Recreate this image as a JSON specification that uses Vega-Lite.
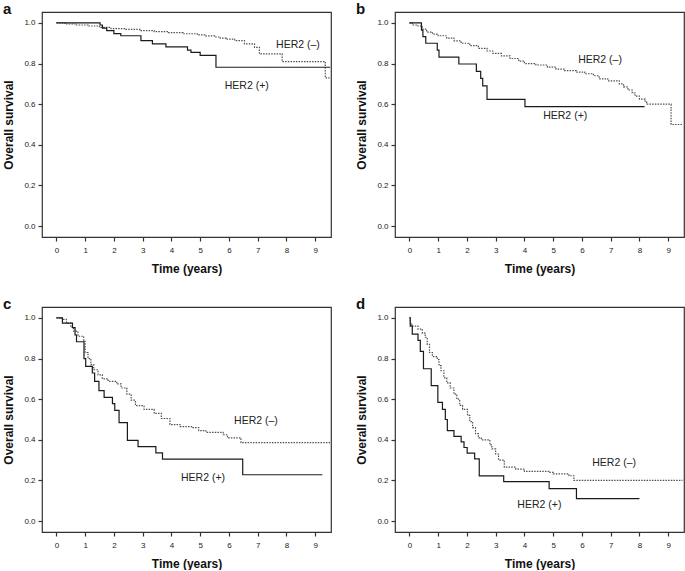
{
  "$schema": "https://vega.github.io/schema/vega-lite/v6.json",
  "padding": {"left": 2, "top": 1, "right": 2, "bottom": 0},
  "background": "white",
  "datasets": {
    "km": [
      {"p":"a","g":"HER2 (–)","t":0,"s":1.0},{"p":"a","g":"HER2 (–)","t":0.3,"s":0.995},{"p":"a","g":"HER2 (–)","t":0.7,"s":0.99},{"p":"a","g":"HER2 (–)","t":1.1,"s":0.985},{"p":"a","g":"HER2 (–)","t":1.5,"s":0.978},{"p":"a","g":"HER2 (–)","t":1.9,"s":0.972},{"p":"a","g":"HER2 (–)","t":2.4,"s":0.968},{"p":"a","g":"HER2 (–)","t":2.9,"s":0.962},{"p":"a","g":"HER2 (–)","t":3.4,"s":0.957},{"p":"a","g":"HER2 (–)","t":3.9,"s":0.952},{"p":"a","g":"HER2 (–)","t":4.4,"s":0.947},{"p":"a","g":"HER2 (–)","t":4.9,"s":0.941},{"p":"a","g":"HER2 (–)","t":5.2,"s":0.936},{"p":"a","g":"HER2 (–)","t":5.5,"s":0.931},{"p":"a","g":"HER2 (–)","t":5.7,"s":0.925},{"p":"a","g":"HER2 (–)","t":5.9,"s":0.92},{"p":"a","g":"HER2 (–)","t":6.2,"s":0.913},{"p":"a","g":"HER2 (–)","t":6.54,"s":0.897},{"p":"a","g":"HER2 (–)","t":6.89,"s":0.88},{"p":"a","g":"HER2 (–)","t":7.06,"s":0.848},{"p":"a","g":"HER2 (–)","t":7.85,"s":0.81},{"p":"a","g":"HER2 (–)","t":9.35,"s":0.73},{"p":"a","g":"HER2 (–)","t":9.5,"s":0.73},
      {"p":"a","g":"HER2 (+)","t":0,"s":1.0},{"p":"a","g":"HER2 (+)","t":1.52,"s":0.99},{"p":"a","g":"HER2 (+)","t":1.6,"s":0.975},{"p":"a","g":"HER2 (+)","t":1.75,"s":0.962},{"p":"a","g":"HER2 (+)","t":2.0,"s":0.948},{"p":"a","g":"HER2 (+)","t":2.24,"s":0.937},{"p":"a","g":"HER2 (+)","t":2.94,"s":0.913},{"p":"a","g":"HER2 (+)","t":3.34,"s":0.897},{"p":"a","g":"HER2 (+)","t":3.81,"s":0.882},{"p":"a","g":"HER2 (+)","t":4.56,"s":0.866},{"p":"a","g":"HER2 (+)","t":4.68,"s":0.855},{"p":"a","g":"HER2 (+)","t":5.0,"s":0.84},{"p":"a","g":"HER2 (+)","t":5.55,"s":0.782},{"p":"a","g":"HER2 (+)","t":9.52,"s":0.782},

      {"p":"b","g":"HER2 (–)","t":0,"s":1.0},{"p":"b","g":"HER2 (–)","t":0.1,"s":0.99},{"p":"b","g":"HER2 (–)","t":0.3,"s":0.985},{"p":"b","g":"HER2 (–)","t":0.45,"s":0.97},{"p":"b","g":"HER2 (–)","t":0.6,"s":0.955},{"p":"b","g":"HER2 (–)","t":0.8,"s":0.945},{"p":"b","g":"HER2 (–)","t":1.0,"s":0.937},{"p":"b","g":"HER2 (–)","t":1.3,"s":0.925},{"p":"b","g":"HER2 (–)","t":1.55,"s":0.912},{"p":"b","g":"HER2 (–)","t":1.8,"s":0.9},{"p":"b","g":"HER2 (–)","t":2.1,"s":0.888},{"p":"b","g":"HER2 (–)","t":2.4,"s":0.875},{"p":"b","g":"HER2 (–)","t":2.7,"s":0.862},{"p":"b","g":"HER2 (–)","t":2.9,"s":0.85},{"p":"b","g":"HER2 (–)","t":3.2,"s":0.838},{"p":"b","g":"HER2 (–)","t":3.5,"s":0.825},{"p":"b","g":"HER2 (–)","t":3.8,"s":0.812},{"p":"b","g":"HER2 (–)","t":4.0,"s":0.8},{"p":"b","g":"HER2 (–)","t":4.4,"s":0.793},{"p":"b","g":"HER2 (–)","t":4.8,"s":0.783},{"p":"b","g":"HER2 (–)","t":5.1,"s":0.773},{"p":"b","g":"HER2 (–)","t":5.4,"s":0.765},{"p":"b","g":"HER2 (–)","t":5.8,"s":0.758},{"p":"b","g":"HER2 (–)","t":6.1,"s":0.75},{"p":"b","g":"HER2 (–)","t":6.4,"s":0.74},{"p":"b","g":"HER2 (–)","t":6.6,"s":0.725},{"p":"b","g":"HER2 (–)","t":6.9,"s":0.715},{"p":"b","g":"HER2 (–)","t":7.3,"s":0.7},{"p":"b","g":"HER2 (–)","t":7.45,"s":0.685},{"p":"b","g":"HER2 (–)","t":7.6,"s":0.67},{"p":"b","g":"HER2 (–)","t":7.75,"s":0.655},{"p":"b","g":"HER2 (–)","t":7.85,"s":0.64},{"p":"b","g":"HER2 (–)","t":8.0,"s":0.625},{"p":"b","g":"HER2 (–)","t":8.2,"s":0.61},{"p":"b","g":"HER2 (–)","t":8.25,"s":0.6},{"p":"b","g":"HER2 (–)","t":9.1,"s":0.5},{"p":"b","g":"HER2 (–)","t":9.5,"s":0.5},
      {"p":"b","g":"HER2 (+)","t":0,"s":1.0},{"p":"b","g":"HER2 (+)","t":0.42,"s":0.965},{"p":"b","g":"HER2 (+)","t":0.47,"s":0.933},{"p":"b","g":"HER2 (+)","t":0.57,"s":0.9},{"p":"b","g":"HER2 (+)","t":0.97,"s":0.866},{"p":"b","g":"HER2 (+)","t":1.03,"s":0.832},{"p":"b","g":"HER2 (+)","t":1.72,"s":0.798},{"p":"b","g":"HER2 (+)","t":2.33,"s":0.762},{"p":"b","g":"HER2 (+)","t":2.48,"s":0.727},{"p":"b","g":"HER2 (+)","t":2.55,"s":0.69},{"p":"b","g":"HER2 (+)","t":2.7,"s":0.624},{"p":"b","g":"HER2 (+)","t":4.02,"s":0.588},{"p":"b","g":"HER2 (+)","t":8.18,"s":0.588},

      {"p":"c","g":"HER2 (–)","t":0,"s":1.0},{"p":"c","g":"HER2 (–)","t":0.2,"s":0.993},{"p":"c","g":"HER2 (–)","t":0.35,"s":0.975},{"p":"c","g":"HER2 (–)","t":0.5,"s":0.955},{"p":"c","g":"HER2 (–)","t":0.6,"s":0.935},{"p":"c","g":"HER2 (–)","t":0.75,"s":0.91},{"p":"c","g":"HER2 (–)","t":0.95,"s":0.885},{"p":"c","g":"HER2 (–)","t":1.0,"s":0.83},{"p":"c","g":"HER2 (–)","t":1.1,"s":0.8},{"p":"c","g":"HER2 (–)","t":1.2,"s":0.77},{"p":"c","g":"HER2 (–)","t":1.3,"s":0.745},{"p":"c","g":"HER2 (–)","t":1.45,"s":0.72},{"p":"c","g":"HER2 (–)","t":1.6,"s":0.7},{"p":"c","g":"HER2 (–)","t":1.8,"s":0.688},{"p":"c","g":"HER2 (–)","t":2.1,"s":0.675},{"p":"c","g":"HER2 (–)","t":2.25,"s":0.655},{"p":"c","g":"HER2 (–)","t":2.45,"s":0.625},{"p":"c","g":"HER2 (–)","t":2.6,"s":0.595},{"p":"c","g":"HER2 (–)","t":2.75,"s":0.568},{"p":"c","g":"HER2 (–)","t":3.05,"s":0.55},{"p":"c","g":"HER2 (–)","t":3.4,"s":0.53},{"p":"c","g":"HER2 (–)","t":3.65,"s":0.505},{"p":"c","g":"HER2 (–)","t":3.95,"s":0.475},{"p":"c","g":"HER2 (–)","t":4.3,"s":0.465},{"p":"c","g":"HER2 (–)","t":4.7,"s":0.46},{"p":"c","g":"HER2 (–)","t":4.95,"s":0.445},{"p":"c","g":"HER2 (–)","t":5.2,"s":0.437},{"p":"c","g":"HER2 (–)","t":5.8,"s":0.425},{"p":"c","g":"HER2 (–)","t":5.95,"s":0.41},{"p":"c","g":"HER2 (–)","t":6.42,"s":0.386},{"p":"c","g":"HER2 (–)","t":9.53,"s":0.386},
      {"p":"c","g":"HER2 (+)","t":0,"s":1.0},{"p":"c","g":"HER2 (+)","t":0.21,"s":0.975},{"p":"c","g":"HER2 (+)","t":0.56,"s":0.952},{"p":"c","g":"HER2 (+)","t":0.65,"s":0.916},{"p":"c","g":"HER2 (+)","t":0.7,"s":0.883},{"p":"c","g":"HER2 (+)","t":0.96,"s":0.8},{"p":"c","g":"HER2 (+)","t":1.02,"s":0.762},{"p":"c","g":"HER2 (+)","t":1.25,"s":0.729},{"p":"c","g":"HER2 (+)","t":1.33,"s":0.688},{"p":"c","g":"HER2 (+)","t":1.48,"s":0.642},{"p":"c","g":"HER2 (+)","t":1.66,"s":0.609},{"p":"c","g":"HER2 (+)","t":1.95,"s":0.578},{"p":"c","g":"HER2 (+)","t":2.03,"s":0.545},{"p":"c","g":"HER2 (+)","t":2.18,"s":0.485},{"p":"c","g":"HER2 (+)","t":2.47,"s":0.397},{"p":"c","g":"HER2 (+)","t":2.84,"s":0.366},{"p":"c","g":"HER2 (+)","t":3.46,"s":0.336},{"p":"c","g":"HER2 (+)","t":3.69,"s":0.305},{"p":"c","g":"HER2 (+)","t":6.48,"s":0.228},{"p":"c","g":"HER2 (+)","t":9.25,"s":0.228},

      {"p":"d","g":"HER2 (–)","t":0,"s":1.0},{"p":"d","g":"HER2 (–)","t":0.03,"s":0.975},{"p":"d","g":"HER2 (–)","t":0.08,"s":0.96},{"p":"d","g":"HER2 (–)","t":0.3,"s":0.945},{"p":"d","g":"HER2 (–)","t":0.45,"s":0.925},{"p":"d","g":"HER2 (–)","t":0.55,"s":0.905},{"p":"d","g":"HER2 (–)","t":0.62,"s":0.87},{"p":"d","g":"HER2 (–)","t":0.7,"s":0.83},{"p":"d","g":"HER2 (–)","t":0.8,"s":0.81},{"p":"d","g":"HER2 (–)","t":0.97,"s":0.795},{"p":"d","g":"HER2 (–)","t":1.03,"s":0.765},{"p":"d","g":"HER2 (–)","t":1.1,"s":0.74},{"p":"d","g":"HER2 (–)","t":1.2,"s":0.705},{"p":"d","g":"HER2 (–)","t":1.3,"s":0.68},{"p":"d","g":"HER2 (–)","t":1.42,"s":0.655},{"p":"d","g":"HER2 (–)","t":1.55,"s":0.625},{"p":"d","g":"HER2 (–)","t":1.65,"s":0.6},{"p":"d","g":"HER2 (–)","t":1.75,"s":0.57},{"p":"d","g":"HER2 (–)","t":1.85,"s":0.55},{"p":"d","g":"HER2 (–)","t":2.02,"s":0.52},{"p":"d","g":"HER2 (–)","t":2.1,"s":0.49},{"p":"d","g":"HER2 (–)","t":2.2,"s":0.46},{"p":"d","g":"HER2 (–)","t":2.3,"s":0.43},{"p":"d","g":"HER2 (–)","t":2.4,"s":0.41},{"p":"d","g":"HER2 (–)","t":2.5,"s":0.4},{"p":"d","g":"HER2 (–)","t":2.8,"s":0.375},{"p":"d","g":"HER2 (–)","t":2.87,"s":0.355},{"p":"d","g":"HER2 (–)","t":3.0,"s":0.33},{"p":"d","g":"HER2 (–)","t":3.1,"s":0.3},{"p":"d","g":"HER2 (–)","t":3.3,"s":0.265},{"p":"d","g":"HER2 (–)","t":3.7,"s":0.256},{"p":"d","g":"HER2 (–)","t":4.0,"s":0.245},{"p":"d","g":"HER2 (–)","t":4.85,"s":0.24},{"p":"d","g":"HER2 (–)","t":5.0,"s":0.232},{"p":"d","g":"HER2 (–)","t":5.55,"s":0.223},{"p":"d","g":"HER2 (–)","t":5.72,"s":0.2},{"p":"d","g":"HER2 (–)","t":9.5,"s":0.2},
      {"p":"d","g":"HER2 (+)","t":0,"s":1.0},{"p":"d","g":"HER2 (+)","t":0.03,"s":0.96},{"p":"d","g":"HER2 (+)","t":0.1,"s":0.92},{"p":"d","g":"HER2 (+)","t":0.3,"s":0.89},{"p":"d","g":"HER2 (+)","t":0.38,"s":0.835},{"p":"d","g":"HER2 (+)","t":0.49,"s":0.75},{"p":"d","g":"HER2 (+)","t":0.76,"s":0.667},{"p":"d","g":"HER2 (+)","t":0.99,"s":0.584},{"p":"d","g":"HER2 (+)","t":1.15,"s":0.55},{"p":"d","g":"HER2 (+)","t":1.25,"s":0.5},{"p":"d","g":"HER2 (+)","t":1.32,"s":0.445},{"p":"d","g":"HER2 (+)","t":1.55,"s":0.417},{"p":"d","g":"HER2 (+)","t":1.8,"s":0.39},{"p":"d","g":"HER2 (+)","t":1.9,"s":0.362},{"p":"d","g":"HER2 (+)","t":2.01,"s":0.334},{"p":"d","g":"HER2 (+)","t":2.27,"s":0.306},{"p":"d","g":"HER2 (+)","t":2.43,"s":0.222},{"p":"d","g":"HER2 (+)","t":3.28,"s":0.194},{"p":"d","g":"HER2 (+)","t":4.86,"s":0.16},{"p":"d","g":"HER2 (+)","t":5.81,"s":0.11},{"p":"d","g":"HER2 (+)","t":8.0,"s":0.11}
    ],
    "labels": [
      {"p":"a","label":"HER2 (–)","t":8.4,"s":0.893},{"p":"a","label":"HER2 (+)","t":6.62,"s":0.691},
      {"p":"b","label":"HER2 (–)","t":6.63,"s":0.818},{"p":"b","label":"HER2 (+)","t":5.42,"s":0.54},
      {"p":"c","label":"HER2 (–)","t":6.94,"s":0.492},{"p":"c","label":"HER2 (+)","t":5.1,"s":0.214},
      {"p":"d","label":"HER2 (–)","t":7.12,"s":0.286},{"p":"d","label":"HER2 (+)","t":4.52,"s":0.079}
    ]
  },
  "config": {
    "font": "Liberation Sans",
    "view": {"stroke": "#333333", "strokeWidth": 1.2},
    "axis": {"grid": false, "domain": false, "tickColor": "#333333", "tickSize": 4, "tickWidth": 1.2, "labelFontSize": 8, "labelColor": "#222222", "labelOverlap": false, "titleFontSize": 12, "titleFontWeight": "bold", "titleColor": "#111111"},
    "title": {"fontSize": 15, "fontWeight": "bold", "anchor": "start", "frame": "bounds", "offset": 0, "dy": 9, "color": "#111111"}
  },
  "columns": 2,
  "bounds": "flush",
  "spacing": {"column": 64, "row": 70},
  "concat": [
    {"title": "a", "width": 289, "height": 225,
     "encoding": {
       "x": {"field": "t", "type": "quantitative", "scale": {"domain": [-0.5, 9.55], "nice": false, "zero": false}, "axis": {"title": "Time (years)", "values": [0,1,2,3,4,5,6,7,8,9], "tickCount": 10, "labelOverlap": false, "labelPadding": 5, "titlePadding": 9}},
       "y": {"field": "s", "type": "quantitative", "scale": {"domain": [-0.054, 1.054], "nice": false, "zero": false}, "axis": {"title": "Overall survival", "values": [0,0.2,0.4,0.6,0.8,1.0], "format": ".1f", "labelOverlap": false, "labelPadding": 3, "titlePadding": 8}}
     },
     "layer": [
      {"data": {"name": "km"}, "transform": [{"filter": "datum.p === 'a'"}], "mark": {"type": "line", "interpolate": "step-after", "strokeWidth": 1.2},
       "encoding": {
         "color": {"field": "g", "type": "nominal", "scale": {"domain": ["HER2 (+)", "HER2 (–)"], "range": ["#1a1a1a", "#505050"]}, "legend": null},
         "strokeDash": {"field": "g", "type": "nominal", "scale": {"domain": ["HER2 (+)", "HER2 (–)"], "range": [[1, 0], [1.5, 1.2]]}, "legend": null}
       }},
      {"data": {"name": "labels"}, "transform": [{"filter": "datum.p === 'a'"}], "mark": {"type": "text", "fontSize": 10.5, "color": "#222222"},
       "encoding": {"text": {"field": "label"}}}
    ]},
    {"title": "b", "width": 289, "height": 225,
     "encoding": {
       "x": {"field": "t", "type": "quantitative", "scale": {"domain": [-0.5, 9.55], "nice": false, "zero": false}, "axis": {"title": "Time (years)", "values": [0,1,2,3,4,5,6,7,8,9], "tickCount": 10, "labelOverlap": false, "labelPadding": 5, "titlePadding": 9}},
       "y": {"field": "s", "type": "quantitative", "scale": {"domain": [-0.054, 1.054], "nice": false, "zero": false}, "axis": {"title": "Overall survival", "values": [0,0.2,0.4,0.6,0.8,1.0], "format": ".1f", "labelOverlap": false, "labelPadding": 3, "titlePadding": 8}}
     },
     "layer": [
      {"data": {"name": "km"}, "transform": [{"filter": "datum.p === 'b'"}], "mark": {"type": "line", "interpolate": "step-after", "strokeWidth": 1.2},
       "encoding": {
         "color": {"field": "g", "type": "nominal", "scale": {"domain": ["HER2 (+)", "HER2 (–)"], "range": ["#1a1a1a", "#505050"]}, "legend": null},
         "strokeDash": {"field": "g", "type": "nominal", "scale": {"domain": ["HER2 (+)", "HER2 (–)"], "range": [[1, 0], [1.5, 1.2]]}, "legend": null}
       }},
      {"data": {"name": "labels"}, "transform": [{"filter": "datum.p === 'b'"}], "mark": {"type": "text", "fontSize": 10.5, "color": "#222222"},
       "encoding": {"text": {"field": "label"}}}
    ]},
    {"title": "c", "width": 289, "height": 225,
     "encoding": {
       "x": {"field": "t", "type": "quantitative", "scale": {"domain": [-0.5, 9.55], "nice": false, "zero": false}, "axis": {"title": "Time (years)", "values": [0,1,2,3,4,5,6,7,8,9], "tickCount": 10, "labelOverlap": false, "labelPadding": 5, "titlePadding": 9}},
       "y": {"field": "s", "type": "quantitative", "scale": {"domain": [-0.054, 1.054], "nice": false, "zero": false}, "axis": {"title": "Overall survival", "values": [0,0.2,0.4,0.6,0.8,1.0], "format": ".1f", "labelOverlap": false, "labelPadding": 3, "titlePadding": 8}}
     },
     "layer": [
      {"data": {"name": "km"}, "transform": [{"filter": "datum.p === 'c'"}], "mark": {"type": "line", "interpolate": "step-after", "strokeWidth": 1.2},
       "encoding": {
         "color": {"field": "g", "type": "nominal", "scale": {"domain": ["HER2 (+)", "HER2 (–)"], "range": ["#1a1a1a", "#505050"]}, "legend": null},
         "strokeDash": {"field": "g", "type": "nominal", "scale": {"domain": ["HER2 (+)", "HER2 (–)"], "range": [[1, 0], [1.5, 1.2]]}, "legend": null}
       }},
      {"data": {"name": "labels"}, "transform": [{"filter": "datum.p === 'c'"}], "mark": {"type": "text", "fontSize": 10.5, "color": "#222222"},
       "encoding": {"text": {"field": "label"}}}
    ]},
    {"title": "d", "width": 289, "height": 225,
     "encoding": {
       "x": {"field": "t", "type": "quantitative", "scale": {"domain": [-0.5, 9.55], "nice": false, "zero": false}, "axis": {"title": "Time (years)", "values": [0,1,2,3,4,5,6,7,8,9], "tickCount": 10, "labelOverlap": false, "labelPadding": 5, "titlePadding": 9}},
       "y": {"field": "s", "type": "quantitative", "scale": {"domain": [-0.054, 1.054], "nice": false, "zero": false}, "axis": {"title": "Overall survival", "values": [0,0.2,0.4,0.6,0.8,1.0], "format": ".1f", "labelOverlap": false, "labelPadding": 3, "titlePadding": 8}}
     },
     "layer": [
      {"data": {"name": "km"}, "transform": [{"filter": "datum.p === 'd'"}], "mark": {"type": "line", "interpolate": "step-after", "strokeWidth": 1.2},
       "encoding": {
         "color": {"field": "g", "type": "nominal", "scale": {"domain": ["HER2 (+)", "HER2 (–)"], "range": ["#1a1a1a", "#505050"]}, "legend": null},
         "strokeDash": {"field": "g", "type": "nominal", "scale": {"domain": ["HER2 (+)", "HER2 (–)"], "range": [[1, 0], [1.5, 1.2]]}, "legend": null}
       }},
      {"data": {"name": "labels"}, "transform": [{"filter": "datum.p === 'd'"}], "mark": {"type": "text", "fontSize": 10.5, "color": "#222222"},
       "encoding": {"text": {"field": "label"}}}
    ]}
  ]
}
